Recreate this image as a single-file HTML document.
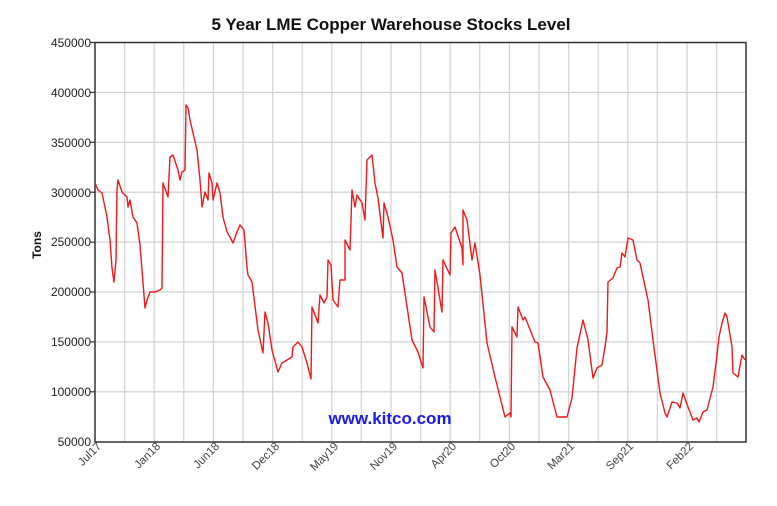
<!DOCTYPE html>
<html><head><meta charset="utf-8"><style>
body{margin:0;background:#fff;}
svg text{font-family:"Liberation Sans",Arial,sans-serif;}
</style></head><body>
<svg width="777" height="501" viewBox="0 0 777 501" xmlns="http://www.w3.org/2000/svg">
<rect width="777" height="501" fill="#fff"/>
<text x="391" y="30" text-anchor="middle" font-size="17" font-weight="bold" fill="#111">5 Year LME Copper Warehouse Stocks Level</text>
<g stroke="#d4d4d4" stroke-width="1.3">
<line x1="95" y1="92.4" x2="746" y2="92.4"/><line x1="95" y1="142.3" x2="746" y2="142.3"/>
<line x1="95" y1="192.2" x2="746" y2="192.2"/><line x1="95" y1="242.1" x2="746" y2="242.1"/>
<line x1="95" y1="292" x2="746" y2="292"/><line x1="95" y1="341.9" x2="746" y2="341.9"/>
<line x1="95" y1="391.8" x2="746" y2="391.8"/>
<line x1="124.6" y1="42.5" x2="124.6" y2="442"/><line x1="154.2" y1="42.5" x2="154.2" y2="442"/>
<line x1="183.8" y1="42.5" x2="183.8" y2="442"/><line x1="213.4" y1="42.5" x2="213.4" y2="442"/>
<line x1="243" y1="42.5" x2="243" y2="442"/><line x1="272.6" y1="42.5" x2="272.6" y2="442"/>
<line x1="302.2" y1="42.5" x2="302.2" y2="442"/><line x1="331.8" y1="42.5" x2="331.8" y2="442"/>
<line x1="361.4" y1="42.5" x2="361.4" y2="442"/><line x1="391" y1="42.5" x2="391" y2="442"/>
<line x1="420.6" y1="42.5" x2="420.6" y2="442"/><line x1="450.2" y1="42.5" x2="450.2" y2="442"/>
<line x1="479.8" y1="42.5" x2="479.8" y2="442"/><line x1="509.4" y1="42.5" x2="509.4" y2="442"/>
<line x1="539" y1="42.5" x2="539" y2="442"/><line x1="568.6" y1="42.5" x2="568.6" y2="442"/>
<line x1="598.2" y1="42.5" x2="598.2" y2="442"/><line x1="627.8" y1="42.5" x2="627.8" y2="442"/>
<line x1="657.4" y1="42.5" x2="657.4" y2="442"/><line x1="687" y1="42.5" x2="687" y2="442"/>
<line x1="716.6" y1="42.5" x2="716.6" y2="442"/>
</g>
<rect x="95" y="42.5" width="651" height="399.5" fill="none" stroke="#333" stroke-width="1.5"/>
<g stroke="#333" stroke-width="1.2">
<line x1="90" y1="42.5" x2="95" y2="42.5"/><line x1="90" y1="92.4" x2="95" y2="92.4"/><line x1="90" y1="142.3" x2="95" y2="142.3"/><line x1="90" y1="192.2" x2="95" y2="192.2"/><line x1="90" y1="242.1" x2="95" y2="242.1"/><line x1="90" y1="292" x2="95" y2="292"/><line x1="90" y1="341.9" x2="95" y2="341.9"/><line x1="90" y1="391.8" x2="95" y2="391.8"/>
</g>
<g font-size="12" fill="#222" text-anchor="end">
<text x="91" y="47">450000</text><text x="91" y="97">400000</text><text x="91" y="147">350000</text><text x="91" y="197">300000</text><text x="91" y="246">250000</text><text x="91" y="296">200000</text><text x="91" y="346">150000</text><text x="91" y="396">100000</text><text x="91" y="446">50000</text>
</g>
<text transform="translate(41,245) rotate(-90)" text-anchor="middle" font-size="12" font-weight="bold" fill="#111">Tons</text>
<g font-size="11.5" fill="#444" text-anchor="end">
<text transform="translate(102,447) rotate(-45)">Jul17</text>
<text transform="translate(161,447) rotate(-45)">Jan18</text>
<text transform="translate(220,447) rotate(-45)">Jun18</text>
<text transform="translate(280,447) rotate(-45)">Dec18</text>
<text transform="translate(339,447) rotate(-45)">May19</text>
<text transform="translate(398,447) rotate(-45)">Nov19</text>
<text transform="translate(457,447) rotate(-45)">Apr20</text>
<text transform="translate(516,447) rotate(-45)">Oct20</text>
<text transform="translate(575,447) rotate(-45)">Mar21</text>
<text transform="translate(634,447) rotate(-45)">Sep21</text>
<text transform="translate(694,447) rotate(-45)">Feb22</text>
</g>
<text x="390" y="424" text-anchor="middle" font-size="17" font-weight="bold" fill="#1a1aee">www.kitco.com</text>
<polyline fill="none" stroke="#f01818" stroke-width="1.4" stroke-linejoin="round" points="
95,183 98,190 102,193 107,217 110,240 112,268 114,282 116,260 117,190 118,180 122,192 127,197 128,207 130,200 133,217 137,223 140,245 142,270 145,308 147,300 150,292 155,292 160,290 162,288 163,183 168,197 170,157 173,155 178,170 180,180 182,172 185,170 186,105 188,108 190,120 193,133 197,150 200,180 202,207 205,192 208,200 209,173 212,183 213,200 217,183 220,193 223,217 227,232 230,237 233,243 237,232 240,225 244,230 247,267 248,275 252,282 258,330 263,353 265,312 268,323 272,350 278,372 282,363 292,357 293,347 298,342 302,347 307,363 311,379 312,307 318,323 320,295 324,303 327,297 328,260 331,265 333,300 338,307 340,280 345,280 345,240 350,250 352,190 355,207 357,195 362,203 365,220 367,160 372,155 375,183 378,198 383,238 384,203 388,217 393,240 397,267 402,273 412,340 418,352 423,368 424,297 430,327 434,332 435,270 442,312 443,260 450,275 451,233 455,227 462,248 463,265 463,210 467,220 472,260 475,243 480,275 487,343 495,377 505,417 510,413 511,417 512,327 517,337 518,307 523,320 525,317 535,342 538,343 543,377 550,390 557,417 567,417 572,398 577,348 583,320 588,340 593,378 597,368 602,365 605,347 607,332 608,282 613,278 617,268 620,267 622,253 625,257 628,238 633,240 637,260 640,263 643,277 648,300 653,340 660,393 665,413 667,417 672,402 677,403 680,408 683,393 688,407 693,420 697,418 699,422 703,412 707,410 713,387 717,355 719,337 722,323 725,313 727,317 732,347 733,373 738,377 742,355 745,360"/>
</svg>
</body></html>
